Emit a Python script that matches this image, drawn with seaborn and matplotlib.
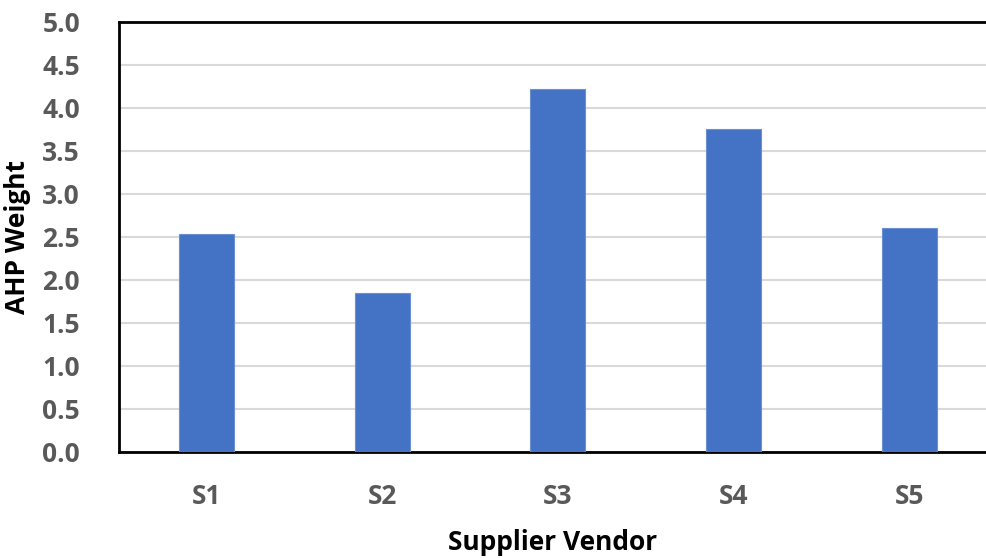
import matplotlib
matplotlib.use("Agg")
import matplotlib.pyplot as plt
import seaborn as sns
import pandas as pd

suppliers = ["S1", "S2", "S3", "S4", "S5"]
ahp_weights = [2.54, 1.85, 4.22, 3.76, 2.61]
y_ticks = [0.0, 0.5, 1.0, 1.5, 2.0, 2.5, 3.0, 3.5, 4.0, 4.5, 5.0]

df = pd.DataFrame({"Supplier": suppliers, "Weight": ahp_weights})

sns.set_style("white")
plt.rcParams["font.family"] = ["Open Sans", "DejaVu Sans"]

fig = plt.figure(figsize=(9.86, 5.58), dpi=100)
ax = fig.add_axes([0.1207, 0.19, 0.8793, 0.7706])

sns.barplot(data=df, x="Supplier", y="Weight", color="#4472C4",
            width=0.313, saturation=1, ax=ax, zorder=3,
            edgecolor="#6a8fd3", linewidth=0.8)

ax.set_ylim(0, 5.0)
ax.set_xlim(-0.5, 4.438)
ax.set_yticks(y_ticks)
ax.set_yticklabels([f"{v:.1f}" for v in y_ticks])
ax.yaxis.grid(True, color="#d9d9d9", linewidth=1.5, zorder=0)
ax.set_axisbelow(True)

for side in ["left", "bottom", "top"]:
    ax.spines[side].set_color("black")
    ax.spines[side].set_linewidth(2)
ax.spines["right"].set_visible(False)

ax.tick_params(axis="both", length=0, labelsize=19, labelcolor="#595959")
ax.tick_params(axis="x", pad=22)
ax.tick_params(axis="y", pad=28)
for lbl in ax.get_xticklabels() + ax.get_yticklabels():
    lbl.set_fontweight("bold")

ax.set_xlabel("Supplier Vendor", fontsize=19, fontweight="bold", color="black", labelpad=14)
ax.set_ylabel("AHP Weight", fontsize=19, fontweight="bold", color="black", labelpad=8)

fig.savefig("out.png", dpi=100)
